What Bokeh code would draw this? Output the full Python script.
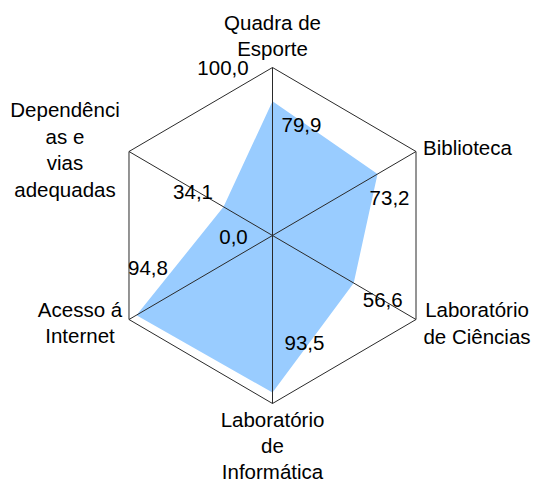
import numpy as np
from bokeh.plotting import figure
from bokeh.models import Range1d, ColumnDataSource
from bokeh.embed import file_html
from bokeh.resources import INLINE
from bokeh.core.properties import value

# ---- data ----
categories = ["Quadra de\nEsporte", "Biblioteca", "Laboratório\nde Ciências",
              "Laboratório\nde\nInformática", "Acesso á\nInternet",
              "Dependênci\nas e\nvias\nadequadas"]
values = [79.9, 73.2, 56.6, 93.5, 94.8, 34.1]
value_labels = ["79,9", "73,2", "56,6", "93,5", "94,8", "34,1"]
scale_values = [0.0, 100.0]
scale_labels = ["0,0", "100,0"]
scale_max = 100.0

# ---- geometry ----
W, H = 535, 480
cx_px, cy_px = 272, 235          # centre of radar in figure pixels
sx, sy = 165.7, 168.0             # pixels per radar unit
n = len(categories)
ang = np.deg2rad(90 - np.arange(n) * 60)

p = figure(width=W, height=H, output_backend="svg", toolbar_location=None,
           x_range=Range1d(-cx_px / sx, (W - cx_px) / sx),
           y_range=Range1d((cy_px - H) / sy, cy_px / sy),
           min_border=0, outline_line_color=None, background_fill_color="white")
p.axis.visible = False
p.grid.visible = False

# data polygon
r = np.array(values) / scale_max
px = r * np.cos(ang)
py = r * np.sin(ang)
p.patch(list(px), list(py), fill_color="#99CCFF", line_color=None)

# hexagon + spokes
hx = np.cos(ang)
hy = np.sin(ang)
p.patch(list(hx), list(hy), fill_color=None, line_color="#2a2a2a", line_width=1)
p.segment(x0=[0] * n, y0=[0] * n, x1=list(hx), y1=list(hy), line_color="#2a2a2a", line_width=1)

font = value("Liberation Sans")
fs = "20.5px"

# value labels
vsrc = ColumnDataSource(dict(x=px, y=py, t=value_labels,
                             xo=[29, 12, 29, 32, 11.5, -30.5],
                             yo=[24, 24, 17, -50, -47, -14.5]))
p.text(x="x", y="y", text="t", x_offset="xo", y_offset="yo", source=vsrc,
       text_font=font, text_font_size=fs, text_color="black",
       text_align="center", text_baseline="middle")

# scale labels (along top axis)
sr = np.array(scale_values) / scale_max
ssrc = ColumnDataSource(dict(x=sr * np.cos(ang[0]), y=sr * np.sin(ang[0]), t=scale_labels,
                             xo=[-39, -49.5], yo=[1, 0.5]))
p.text(x="x", y="y", text="t", x_offset="xo", y_offset="yo", source=ssrc,
       text_font=font, text_font_size=fs, text_color="black",
       text_align="center", text_baseline="middle")

# category labels
csrc = ColumnDataSource(dict(x=hx, y=hy, t=categories,
                             xo=[0, 7, 61, 0, -49, -64],
                             yo=[-32, -4, 3.5, 42, 3, -2],
                             al=["center", "left", "center", "center", "center", "center"]))
p.text(x="x", y="y", text="t", x_offset="xo", y_offset="yo", source=csrc,
       text_font=font, text_font_size=fs, text_color="black",
       text_align="al", text_baseline="middle", text_line_height=1.15)

open("out.html", "w").write(file_html(p, INLINE))
